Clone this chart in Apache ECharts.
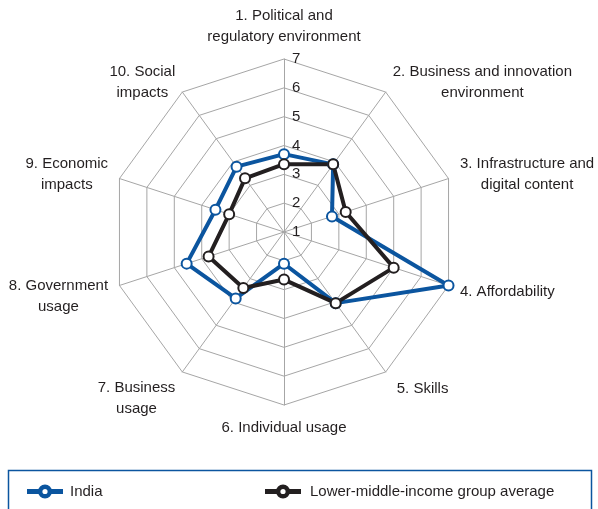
<!DOCTYPE html>
<html>
<head>
<meta charset="utf-8">
<script src="https://cdn.jsdelivr.net/npm/echarts@6/dist/echarts.min.js"></script>
<style>
  html, body { margin: 0; padding: 0; background: #fff; }
  #chart { width: 598px; height: 509px; }
</style>
</head>
<body>
<div id="chart"></div>
<script>
// indicator names (clockwise from the top)
const indicators = [
  '1. Political and\nregulatory environment',
  '2. Business and innovation\nenvironment',
  '3. Infrastructure and\ndigital content',
  '4. Affordability',
  '5. Skills',
  '6. Individual usage',
  '7. Business\nusage',
  '8. Government\nusage',
  '9. Economic\nimpacts',
  '10. Social\nimpacts'
];
const india = [3.7, 3.9, 2.75, 7.0, 4.05, 2.1, 3.85, 4.55, 3.5, 3.8];
const lmiAverage = [3.35, 3.9, 3.25, 5.0, 4.05, 2.65, 3.4, 3.75, 3.0, 3.3];
const seriesNames = ['India', 'Lower-middle-income group average'];
const scaleMin = 1;
const scaleMax = 7;

const FONT = '"Liberation Sans", Arial, sans-serif';
const TEXT = '#231f20';
const BLUE = '#0b559f';
const GRID = '#a6a6a6';
// line with an open circle, for the legend
const LEGEND_ICON = 'path://M0,4.5H11.2V7.5H0Z M22.8,4.5H34V7.5H22.8Z ' +
  'M17,0A6,6,0,1,1,17,12A6,6,0,1,1,17,0Z M17,2.4A3.6,3.6,0,1,0,17,9.6A3.6,3.6,0,1,0,17,2.4Z';

// small nudges for the axis names in the lower half (padding top/right/bottom/left)
const namePadding = {
  3: [6, 0, 0, 0],
  4: [14, 0, 0, 4],
  6: [34, 0, 0, 0],
  7: [14, 0, 0, 0]
};

// echarts lays radar axes out counter-clockwise, so walk the list backwards after the first
const order = indicators.map(function (d, i) { return i === 0 ? 0 : indicators.length - i; });
function reorder(arr) { return order.map(function (k) { return arr[k]; }); }

window.onload = function () {
  const chart = echarts.init(document.getElementById('chart'));

  const indicatorOpts = indicators.map(function (name, i) {
    const opt = { name: name, min: scaleMin, max: scaleMax };
    if (i === 0) {
      // tick values only on the vertical axis, to its right
      opt.axisLabel = {
        show: true, color: TEXT, fontSize: 15, fontFamily: FONT,
        margin: -8, align: 'left', padding: [0, 0, 4, 0]
      };
    }
    if (namePadding[i]) {
      opt.nameTextStyle = { padding: namePadding[i] };
    }
    return opt;
  });

  const option = {
    animation: false,
    backgroundColor: '#fff',
    radar: {
      center: [284, 232],
      radius: 173,
      startAngle: 90,
      splitNumber: 6,
      shape: 'polygon',
      indicator: reorder(indicatorOpts),
      nameGap: 12,
      axisName: {
        color: TEXT,
        fontSize: 15,
        fontFamily: FONT,
        formatter: function (value) {
          return value.split('\n').map(function (s) { return '{c|' + s + '}'; }).join('\n');
        },
        rich: {
          c: { align: 'center', color: TEXT, fontSize: 15, fontFamily: FONT, lineHeight: 21 }
        }
      },
      axisLabel: { show: false },
      axisTick: { show: false },
      axisLine: { lineStyle: { color: GRID, width: 1 } },
      splitLine: { lineStyle: { color: GRID, width: 1 } },
      splitArea: { show: false }
    },
    legend: [{
      data: [seriesNames[0]],
      left: 27, top: 484, padding: 0,
      icon: LEGEND_ICON, itemWidth: 34, itemHeight: 12, itemGap: 0,
      textStyle: { color: TEXT, fontSize: 15, fontFamily: FONT, padding: [0, 0, 0, 3] }
    }, {
      data: [seriesNames[1]],
      left: 265, top: 484, padding: 0,
      icon: LEGEND_ICON, itemWidth: 34, itemHeight: 12, itemGap: 0,
      textStyle: { color: TEXT, fontSize: 15, fontFamily: FONT, padding: [0, 0, 0, 5] }
    }],
    graphic: [{
      type: 'rect',
      shape: { x: 8.5, y: 470.5, width: 583, height: 60 },
      style: { fill: null, stroke: BLUE, lineWidth: 1.5 },
      silent: true
    }],
    series: [{
      type: 'radar',
      symbol: 'emptyCircle',
      symbolSize: 10,
      data: [{
        name: seriesNames[0],
        value: reorder(india),
        lineStyle: { color: BLUE, width: 4 },
        itemStyle: { color: BLUE, borderColor: BLUE, borderWidth: 2.5 }
      }, {
        name: seriesNames[1],
        value: reorder(lmiAverage),
        lineStyle: { color: TEXT, width: 4 },
        itemStyle: { color: TEXT, borderColor: TEXT, borderWidth: 2.5 }
      }]
    }]
  };

  chart.setOption(option);
};
</script>
</body>
</html>
